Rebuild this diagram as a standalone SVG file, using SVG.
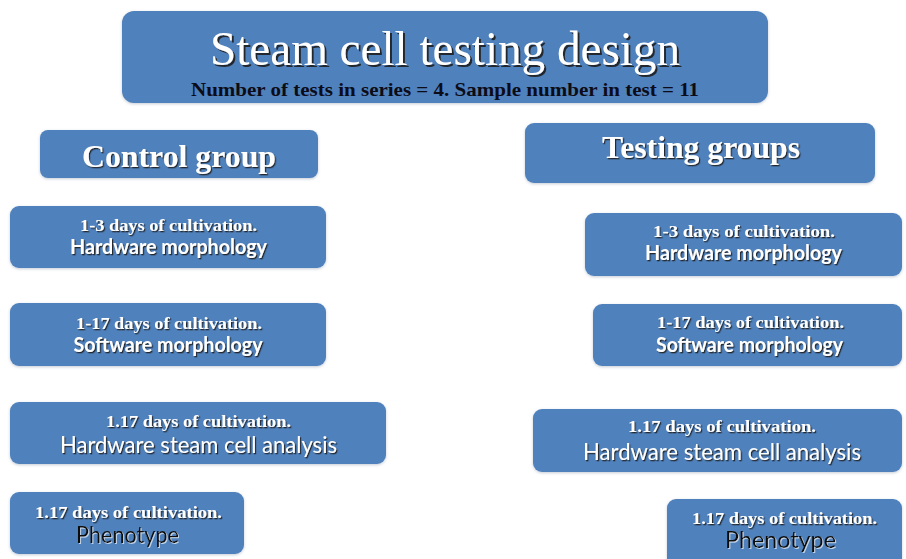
<svg xmlns="http://www.w3.org/2000/svg" width="906" height="559" viewBox="0 0 906 559">
  <defs>
    <!-- soft halo under each box -->
    <filter id="boxGlow" x="-10%" y="-20%" width="120%" height="140%">
      <feDropShadow dx="0" dy="1" stdDeviation="1.6" flood-color="#7f8ea3" flood-opacity="0.45"/>
    </filter>
    <!-- embossed white lettering -->
    <filter id="textShadow" x="-5%" y="-20%" width="110%" height="150%">
      <feDropShadow dx="1.2" dy="1.3" stdDeviation="0.35" flood-color="#1b1b1b" flood-opacity="0.9"/>
    </filter>
    <filter id="titleShadow" x="-5%" y="-20%" width="110%" height="150%">
      <feDropShadow dx="2" dy="2" stdDeviation="0.5" flood-color="#1b1b1b" flood-opacity="0.9"/>
    </filter>
    <!-- pale rim behind dark lettering -->
    <filter id="paleShadow" x="-5%" y="-20%" width="110%" height="150%">
      <feDropShadow dx="1" dy="1" stdDeviation="0.4" flood-color="#dfe8f3" flood-opacity="0.8"/>
    </filter>
  </defs>
  <style>
    .box { fill: #4f81bd; filter: url(#boxGlow); }
    .serif { font-family: "Liberation Serif", "Times New Roman", serif; font-weight: bold; text-anchor: middle; }
    .sans { font-family: Lato, "Open Sans", "Liberation Sans", sans-serif; text-anchor: middle; }
    .light { fill: #ffffff; filter: url(#textShadow); }
    .dark { fill: #111111; filter: url(#paleShadow); }
    .head { font-size: 31px; }
    .days { font-size: 16px; }
    .name { font-size: 20px; font-weight: bold; }
    .plain { font-size: 23px; font-weight: normal; }
  </style>

  <rect x="0" y="0" width="906" height="559" fill="#ffffff"/>

  <!-- heading -->
  <g id="title">
    <rect class="box" x="122" y="11" width="646" height="92" rx="12"/>
    <text x="445" y="65" font-family="Liberation Serif, Times New Roman, serif" font-size="48" text-anchor="middle" fill="#ffffff" filter="url(#titleShadow)" textLength="470" lengthAdjust="spacingAndGlyphs">Steam cell testing design</text>
    <text class="serif" x="445" y="96" font-size="19.5" fill="#0c0c18" textLength="508" lengthAdjust="spacingAndGlyphs">Number of tests in series = 4. Sample number in test = 11</text>
  </g>

  <!-- left column -->
  <g id="control-group">
    <rect class="box" x="40" y="130" width="278" height="48" rx="8"/>
    <text class="serif light" x="179" y="167" font-size="32" textLength="194" lengthAdjust="spacingAndGlyphs">Control group</text>
  </g>

  <g id="control-hardware-morphology">
    <rect class="box" x="10" y="206" width="316" height="62" rx="9"/>
    <text class="serif light days" x="168.5" y="231" textLength="177" lengthAdjust="spacingAndGlyphs">1-3 days of cultivation.</text>
    <text class="sans light name" x="168.5" y="254" textLength="197" lengthAdjust="spacingAndGlyphs">Hardware morphology</text>
  </g>

  <g id="control-software-morphology">
    <rect class="box" x="10" y="303" width="316" height="63" rx="9"/>
    <text class="serif light days" x="169" y="329" textLength="186" lengthAdjust="spacingAndGlyphs">1-17 days of cultivation.</text>
    <text class="sans light name" x="168" y="352" textLength="189" lengthAdjust="spacingAndGlyphs">Software morphology</text>
  </g>

  <g id="control-steam-cell-analysis">
    <rect class="box" x="10" y="402" width="376" height="62" rx="9"/>
    <text class="serif light days" x="198.5" y="427" textLength="185" lengthAdjust="spacingAndGlyphs">1.17 days of cultivation.</text>
    <text class="sans light plain" x="198.5" y="453" textLength="277" lengthAdjust="spacingAndGlyphs">Hardware steam cell analysis</text>
  </g>

  <g id="control-phenotype">
    <rect class="box" x="10" y="492" width="234" height="62" rx="9"/>
    <text class="serif light days" x="128.5" y="518" textLength="187" lengthAdjust="spacingAndGlyphs">1.17 days of cultivation.</text>
    <text class="sans dark plain" x="127.5" y="543" textLength="103" lengthAdjust="spacingAndGlyphs">Phenotype</text>
  </g>

  <!-- right column -->
  <g id="testing-groups">
    <rect class="box" x="525" y="123" width="350" height="60" rx="9"/>
    <text class="serif light head" x="701" y="158" textLength="198" lengthAdjust="spacingAndGlyphs">Testing groups</text>
  </g>

  <g id="testing-hardware-morphology">
    <rect class="box" x="585" y="213" width="317" height="63" rx="9"/>
    <text class="serif light days" x="744" y="237" textLength="182" lengthAdjust="spacingAndGlyphs">1-3 days of cultivation.</text>
    <text class="sans light name" x="743.5" y="260" textLength="197" lengthAdjust="spacingAndGlyphs">Hardware morphology</text>
  </g>

  <g id="testing-software-morphology">
    <rect class="box" x="593" y="304" width="309" height="62" rx="9"/>
    <text class="serif light days" x="750.5" y="328" textLength="187" lengthAdjust="spacingAndGlyphs">1-17 days of cultivation.</text>
    <text class="sans light name" x="749.5" y="352" textLength="187" lengthAdjust="spacingAndGlyphs">Software morphology</text>
  </g>

  <g id="testing-steam-cell-analysis">
    <rect class="box" x="533" y="409" width="369" height="63" rx="9"/>
    <text class="serif light days" x="722" y="432" textLength="188" lengthAdjust="spacingAndGlyphs">1.17 days of cultivation.</text>
    <text class="sans light plain" x="722" y="460" textLength="278" lengthAdjust="spacingAndGlyphs">Hardware steam cell analysis</text>
  </g>

  <g id="testing-phenotype">
    <rect class="box" x="667" y="499" width="235" height="72" rx="9"/>
    <text class="serif light days" x="784.5" y="524" textLength="185" lengthAdjust="spacingAndGlyphs">1.17 days of cultivation.</text>
    <text class="sans dark plain" x="780.5" y="548" textLength="111" lengthAdjust="spacingAndGlyphs">Phenotype</text>
  </g>

  <!-- no links between the boxes -->
  <g id="connectors"/>
</svg>
